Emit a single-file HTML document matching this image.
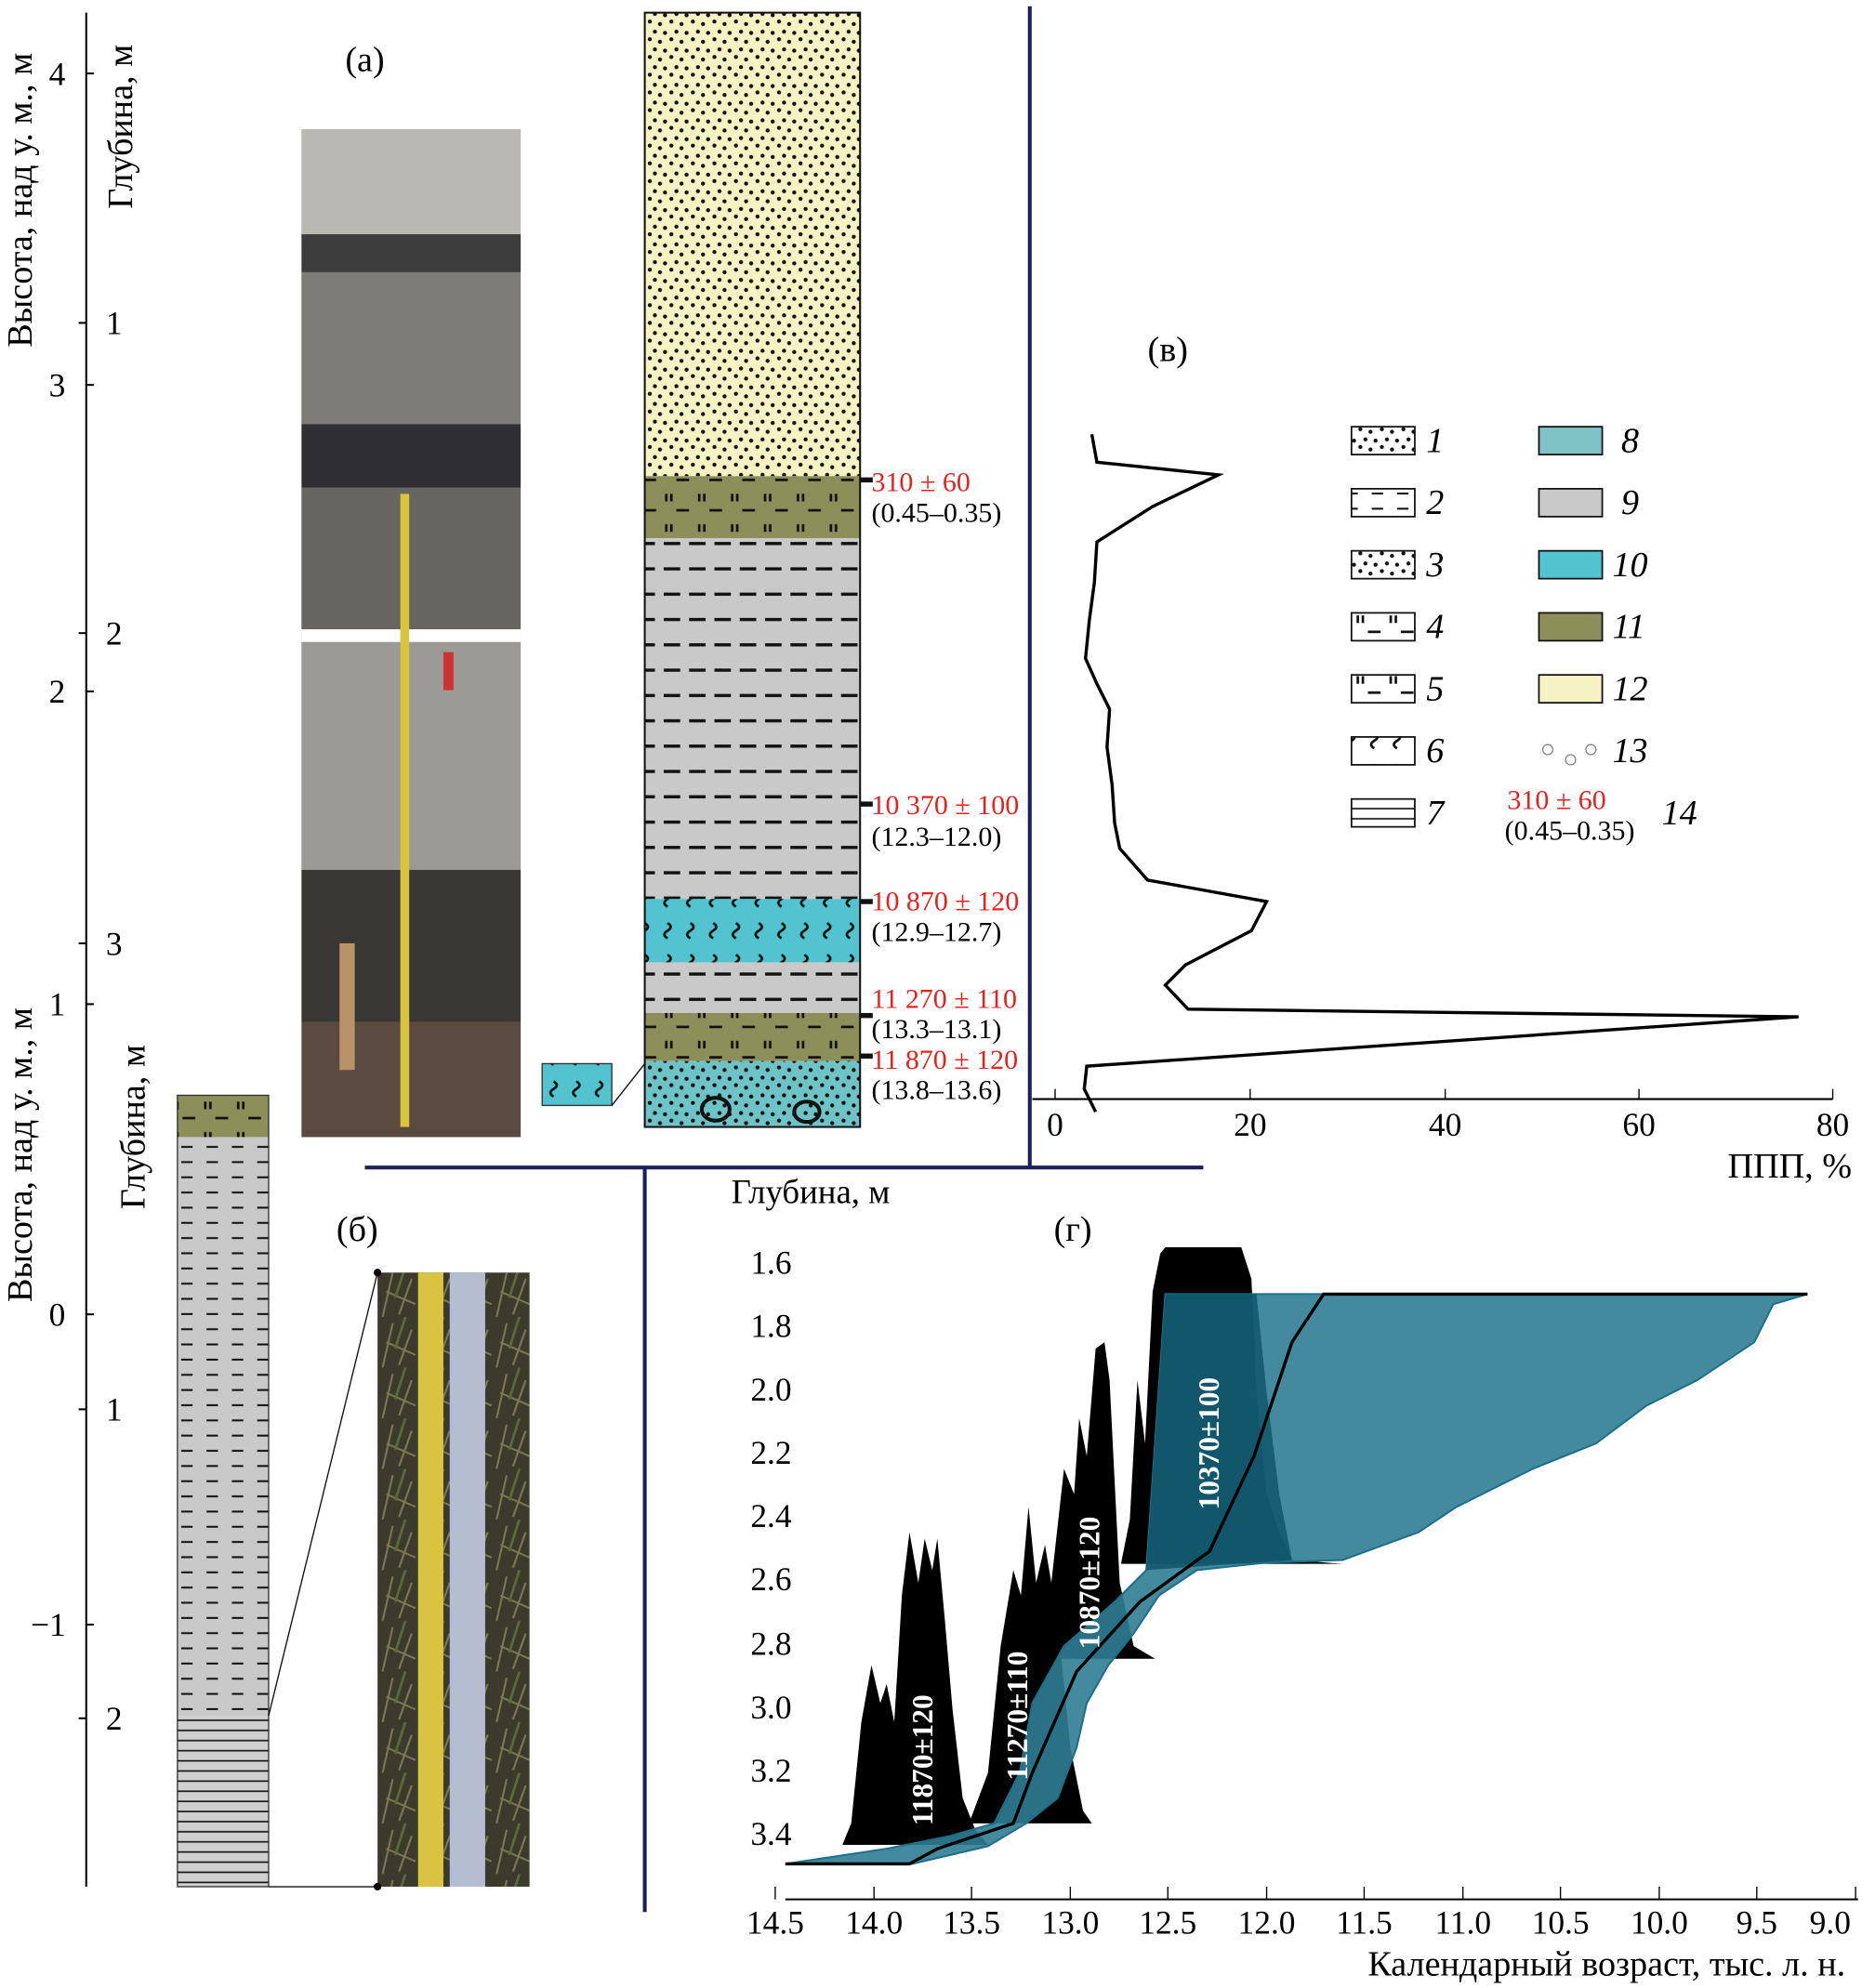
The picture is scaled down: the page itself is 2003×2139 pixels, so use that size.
<!DOCTYPE html><html><head><meta charset="utf-8"><style>
html,body{margin:0;padding:0;background:#fff}
svg{display:block}
text{font-family:"Liberation Serif",serif}
</style></head><body>
<svg width="2003" height="2139" viewBox="0 0 1470 1570" xmlns="http://www.w3.org/2000/svg">
<defs>
<pattern id="dots" width="17" height="14" patternUnits="userSpaceOnUse"><circle cx="3" cy="3" r="1.6" fill="#111"/><circle cx="11" cy="5" r="1.6" fill="#111"/><circle cx="7" cy="11" r="1.6" fill="#111"/><circle cx="15" cy="12" r="1.6" fill="#111"/></pattern>
<pattern id="dash" width="40" height="20" patternUnits="userSpaceOnUse"><rect x="4" y="8" width="13" height="2.5" fill="#111"/><rect x="24" y="8" width="13" height="2.5" fill="#111"/></pattern>
<pattern id="dashs" width="20" height="12" patternUnits="userSpaceOnUse"><rect x="3" y="5" width="9" height="1.5" fill="#111"/></pattern>
<pattern id="tick" width="26" height="24" patternUnits="userSpaceOnUse"><rect x="5" y="6" width="2" height="6" fill="#111"/><rect x="9" y="6" width="2" height="6" fill="#111"/><rect x="14" y="18" width="10" height="2" fill="#111"/></pattern>
<pattern id="wave" width="18" height="25" patternUnits="userSpaceOnUse"><path d="M5 4 q5 3 0 6 q-5 3 0 6" stroke="#111" stroke-width="2" fill="none"/></pattern>
<pattern id="hl" width="10" height="8" patternUnits="userSpaceOnUse"><rect x="0" y="6" width="10" height="1.2" fill="#111"/></pattern>
<pattern id="grass" width="30" height="40" patternUnits="userSpaceOnUse"><rect width="30" height="40" fill="#3b3a2c"/><path d="M2 40 L10 5 M15 38 L25 10 M5 20 L28 30" stroke="#7b7a55" stroke-width="1.5"/><path d="M20 0 L12 25" stroke="#5a6b3a" stroke-width="2"/></pattern>
</defs>
<line x1="68" y1="10" x2="68" y2="1490" stroke="#000" stroke-width="1.5"/>
<g stroke="#000" stroke-width="1.5">
<line x1="68" y1="58" x2="74" y2="58"/><line x1="68" y1="304" x2="74" y2="304"/><line x1="68" y1="546" x2="74" y2="546"/><line x1="68" y1="793" x2="74" y2="793"/><line x1="68" y1="1038" x2="74" y2="1038"/><line x1="68" y1="1283" x2="74" y2="1283"/>
<line x1="68" y1="255" x2="62" y2="255"/><line x1="68" y1="500" x2="62" y2="500"/><line x1="68" y1="745" x2="62" y2="745"/><line x1="68" y1="1113" x2="62" y2="1113"/><line x1="68" y1="1357" x2="62" y2="1357"/>
</g>
<g font-size="26" text-anchor="middle">
<text x="45" y="67">4</text><text x="45" y="313">3</text><text x="45" y="555">2</text><text x="45" y="802">1</text><text x="45" y="1047">0</text><text x="38" y="1292">−1</text>
<text x="90" y="264">1</text><text x="90" y="509">2</text><text x="90" y="754">3</text><text x="90" y="1122">1</text><text x="90" y="1366">2</text>
</g>
<g font-size="28">
<text transform="translate(25,158) rotate(-90)" text-anchor="middle">Высота, над у. м., м</text>
<text transform="translate(25,912) rotate(-90)" text-anchor="middle">Высота, над у. м., м</text>
<text transform="translate(104,100) rotate(-90)" text-anchor="middle">Глубина, м</text>
<text transform="translate(114,890) rotate(-90)" text-anchor="middle">Глубина, м</text>
<text x="288" y="56" text-anchor="middle">(а)</text>
<text x="922" y="285" text-anchor="middle">(в)</text>
<text x="282" y="980" text-anchor="middle">(б)</text>
<text x="847" y="980" text-anchor="middle">(г)</text>
</g>
<rect x="238" y="102" width="173" height="796" fill="#8e8d88"/>
<rect x="238" y="102" width="173" height="90" fill="#b9b8b3"/>
<rect x="238" y="185" width="173" height="30" fill="#3c3c3c"/>
<rect x="238" y="215" width="173" height="120" fill="#7d7b77"/>
<rect x="238" y="335" width="173" height="50" fill="#2f2f33"/>
<rect x="238" y="385" width="173" height="112" fill="#66655f"/>
<rect x="238" y="507" width="173" height="180" fill="#9c9a95"/>
<rect x="238" y="687" width="173" height="120" fill="#3a3834"/>
<rect x="238" y="807" width="173" height="91" fill="#5a4a40"/>
<rect x="238" y="497" width="173" height="10" fill="#fff"/>
<rect x="316" y="390" width="7" height="500" fill="#d7c43a"/>
<rect x="350" y="515" width="8" height="30" fill="#c33"/>
<rect x="268" y="745" width="12" height="100" fill="#b8936a"/>
<rect x="509" y="10" width="170" height="366" fill="#f5f3c4"/>
<rect x="509" y="10" width="170" height="366" fill="url(#dots)"/>
<rect x="509" y="376" width="170" height="49" fill="#8d8f5b"/>
<rect x="509" y="376" width="170" height="49" fill="url(#tick)"/>
<rect x="509" y="425" width="170" height="285" fill="#c9c9c9"/>
<rect x="509" y="425" width="170" height="285" fill="url(#dash)"/>
<rect x="509" y="710" width="170" height="50" fill="#52c3cf"/>
<rect x="509" y="710" width="170" height="50" fill="url(#wave)"/>
<rect x="509" y="760" width="170" height="40" fill="#c9c9c9"/>
<rect x="509" y="760" width="170" height="40" fill="url(#dash)"/>
<rect x="509" y="800" width="170" height="38" fill="#8d8f5b"/>
<rect x="509" y="800" width="170" height="38" fill="url(#tick)"/>
<rect x="509" y="838" width="170" height="52" fill="#6ec3c6"/>
<rect x="509" y="838" width="170" height="52" fill="url(#dots)"/>
<ellipse cx="565" cy="876" rx="11" ry="9" fill="none" stroke="#111" stroke-width="3"/><ellipse cx="637" cy="878" rx="10" ry="8" fill="none" stroke="#111" stroke-width="3"/>
<rect x="509" y="10" width="170" height="880" fill="none" stroke="#111" stroke-width="1.5"/>
<rect x="428" y="840" width="55" height="33" fill="#52c3cf" stroke="#333"/>
<rect x="428" y="840" width="55" height="33" fill="url(#wave)"/>
<line x1="483" y1="873" x2="509" y2="840" stroke="#111"/>
<g fill="#111"><rect x="679" y="377" width="10" height="4"/><rect x="679" y="633" width="10" height="4"/><rect x="679" y="710" width="10" height="4"/><rect x="679" y="800" width="10" height="4"/><rect x="679" y="832" width="10" height="4"/></g>
<g font-size="22">
<text x="688" y="388" fill="#e8231f">310 ± 60</text><text x="688" y="412">(0.45–0.35)</text>
<text x="688" y="643" fill="#e8231f">10 370 ± 100</text><text x="688" y="668">(12.3–12.0)</text>
<text x="688" y="719" fill="#e8231f">10 870 ± 120</text><text x="688" y="743">(12.9–12.7)</text>
<text x="688" y="796" fill="#e8231f">11 270 ± 110</text><text x="688" y="820">(13.3–13.1)</text>
<text x="688" y="844" fill="#e8231f">11 870 ± 120</text><text x="688" y="868">(13.8–13.6)</text>
</g>
<g stroke="#1b1f5e" stroke-width="3"><line x1="813" y1="5" x2="813" y2="922"/><line x1="288" y1="922" x2="950" y2="922"/><line x1="509" y1="922" x2="509" y2="1510"/></g>
<line x1="815" y1="868" x2="1447" y2="868" stroke="#000" stroke-width="1.5"/>
<g stroke="#000"><line x1="833" y1="860" x2="833" y2="868"/><line x1="987" y1="860" x2="987" y2="868"/><line x1="1141" y1="860" x2="1141" y2="868"/><line x1="1294" y1="860" x2="1294" y2="868"/><line x1="1447" y1="860" x2="1447" y2="868"/></g>
<g font-size="26" text-anchor="middle"><text x="833" y="897">0</text><text x="987" y="897">20</text><text x="1141" y="897">40</text><text x="1294" y="897">60</text><text x="1447" y="897">80</text></g>
<text x="1462" y="930" font-size="28" text-anchor="end">ППП, %</text>
<polyline fill="none" stroke="#000" stroke-width="2.5" points="862,343 866,365 962,375 910,400 866,428 864,460 860,490 857,520 866,540 876,560 874,590 878,620 880,650 884,670 906,695 1000,712 988,735 936,762 920,778 938,797 1420,803 858,842 856,860 865,878"/>
<g stroke="#111" stroke-width="1.3">
<rect x="1067" y="337" width="50" height="22" fill="url(#dots)"/>
<rect x="1067" y="386" width="50" height="22" fill="url(#dashs)"/>
<rect x="1067" y="435" width="50" height="22" fill="url(#dots)"/>
<rect x="1067" y="484" width="50" height="22" fill="url(#tick)"/>
<rect x="1067" y="533" width="50" height="22" fill="url(#tick)"/>
<rect x="1067" y="582" width="50" height="22" fill="url(#wave)"/>
<rect x="1067" y="631" width="50" height="22" fill="url(#hl)"/>
<rect x="1215" y="337" width="50" height="22" fill="#7fc3c4"/>
<rect x="1215" y="386" width="50" height="22" fill="#c9c9c9"/>
<rect x="1215" y="435" width="50" height="22" fill="#52c3cf"/>
<rect x="1215" y="484" width="50" height="22" fill="#8d8f5b"/>
<rect x="1215" y="533" width="50" height="22" fill="#f5f3c4"/>
</g>
<g fill="none" stroke="#888"><circle cx="1222" cy="592" r="4"/><circle cx="1240" cy="600" r="4"/><circle cx="1256" cy="592" r="4"/></g>
<g font-size="28" font-style="italic">
<text x="1126" y="357">1</text><text x="1126" y="406">2</text><text x="1126" y="455">3</text><text x="1126" y="504">4</text><text x="1126" y="553">5</text><text x="1126" y="602">6</text><text x="1126" y="651">7</text>
<text x="1280" y="357">8</text><text x="1280" y="406">9</text><text x="1273" y="455">10</text><text x="1273" y="504">11</text><text x="1273" y="553">12</text><text x="1273" y="602">13</text><text x="1312" y="651">14</text>
</g>
<text x="1190" y="639" font-size="22" fill="#e8231f">310 ± 60</text><text x="1188" y="663" font-size="22">(0.45–0.35)</text>
<rect x="140" y="865" width="72" height="33" fill="#8d8f5b"/><rect x="140" y="865" width="72" height="33" fill="url(#tick)"/>
<rect x="140" y="898" width="72" height="457" fill="#c9c9c9"/><rect x="140" y="898" width="72" height="457" fill="url(#dashs)"/>
<rect x="140" y="1355" width="72" height="135" fill="#d0d0d0"/><rect x="140" y="1355" width="72" height="135" fill="url(#hl)"/>
<rect x="140" y="865" width="72" height="625" fill="none" stroke="#333"/>
<rect x="298" y="1005" width="120" height="485" fill="url(#grass)"/>
<rect x="330" y="1005" width="20" height="485" fill="#d8c440"/>
<rect x="355" y="1005" width="28" height="485" fill="#b5bdd0"/>
<line x1="212" y1="1355" x2="298" y2="1005" stroke="#111"/><line x1="212" y1="1490" x2="298" y2="1490" stroke="#111"/>
<circle cx="298" cy="1005" r="3"/><circle cx="298" cy="1490" r="3"/>
<text x="640" y="950" font-size="27" text-anchor="middle">Глубина, м</text>
<g font-size="26" text-anchor="end">
<text x="625" y="1006">1.6</text><text x="625" y="1056">1.8</text><text x="625" y="1106">2.0</text><text x="625" y="1156">2.2</text><text x="625" y="1206">2.4</text><text x="625" y="1256">2.6</text><text x="625" y="1307">2.8</text><text x="625" y="1357">3.0</text><text x="625" y="1407">3.2</text><text x="625" y="1457">3.4</text>
</g>
<line x1="620" y1="1500" x2="1467" y2="1500" stroke="#000" stroke-width="1.5"/>
<g stroke="#000"><line x1="612" y1="1490" x2="612" y2="1500"/><line x1="690" y1="1490" x2="690" y2="1500"/><line x1="767" y1="1490" x2="767" y2="1500"/><line x1="845" y1="1490" x2="845" y2="1500"/><line x1="922" y1="1490" x2="922" y2="1500"/><line x1="1000" y1="1490" x2="1000" y2="1500"/><line x1="1077" y1="1490" x2="1077" y2="1500"/><line x1="1155" y1="1490" x2="1155" y2="1500"/><line x1="1232" y1="1490" x2="1232" y2="1500"/><line x1="1310" y1="1490" x2="1310" y2="1500"/><line x1="1387" y1="1490" x2="1387" y2="1500"/><line x1="1465" y1="1490" x2="1465" y2="1500"/></g>
<g font-size="26" text-anchor="middle"><text x="612" y="1527">14.5</text><text x="690" y="1527">14.0</text><text x="767" y="1527">13.5</text><text x="845" y="1527">13.0</text><text x="922" y="1527">12.5</text><text x="1000" y="1527">12.0</text><text x="1077" y="1527">11.5</text><text x="1155" y="1527">11.0</text><text x="1232" y="1527">10.5</text><text x="1310" y="1527">10.0</text><text x="1387" y="1527">9.5</text><text x="1445" y="1527">9.0</text></g>
<text x="1457" y="1560" font-size="28" text-anchor="end">Календарный возраст, тыс. л. н.</text>
<path fill="#000" d="M665,1457 L672,1440 680,1360 688,1315 695,1345 700,1330 706,1360 712,1260 718,1210 725,1250 730,1215 736,1240 740,1215 746,1280 752,1350 760,1420 770,1445 780,1457 Z"/>
<path fill="#000" d="M765,1440 L780,1400 790,1300 800,1240 806,1260 812,1190 818,1250 825,1220 835,1280 845,1380 855,1430 862,1440 Z"/>
<path fill="#000" d="M820,1310 L830,1250 840,1160 848,1180 852,1120 858,1150 865,1065 872,1060 876,1090 884,1250 895,1300 912,1310 Z"/>
<path fill="#000" d="M885,1235 L892,1200 898,1090 904,1140 910,1020 916,990 920,985 980,985 988,1010 992,1100 1000,1180 1010,1210 1020,1232 1060,1235 Z"/>
<path fill="#2f7d95" fill-opacity="0.9" stroke="#1e6f88" stroke-width="1.5" d="M920,1022 L1427,1022 1400,1030 1385,1060 1340,1090 1300,1110 1260,1140 1210,1160 1150,1190 1120,1210 1060,1232 1000,1234 945,1240 915,1260 895,1290 875,1315 858,1345 850,1380 835,1420 810,1440 780,1458 720,1472 620,1472 700,1460 750,1450 785,1440 805,1400 815,1345 840,1300 880,1265 905,1240 Z"/>
<path fill="#0b4d63" fill-opacity="0.75" d="M920,1022 L992,1022 1000,1100 1010,1180 1020,1232 905,1240 Z"/>
<polyline fill="none" stroke="#000" stroke-width="2.5" points="620,1472 718,1472 740,1460 800,1440 815,1400 850,1320 900,1265 955,1225 990,1150 1020,1060 1045,1022 1427,1022"/>
<g font-size="23" font-weight="bold" fill="#fff" text-anchor="middle">
<text transform="translate(736,1390) rotate(-90)">11870±120</text>
<text transform="translate(811,1355) rotate(-90)">11270±110</text>
<text transform="translate(868,1250) rotate(-90)">10870±120</text>
<text transform="translate(962,1140) rotate(-90)">10370±100</text>
</g>
</svg>
</body></html>
